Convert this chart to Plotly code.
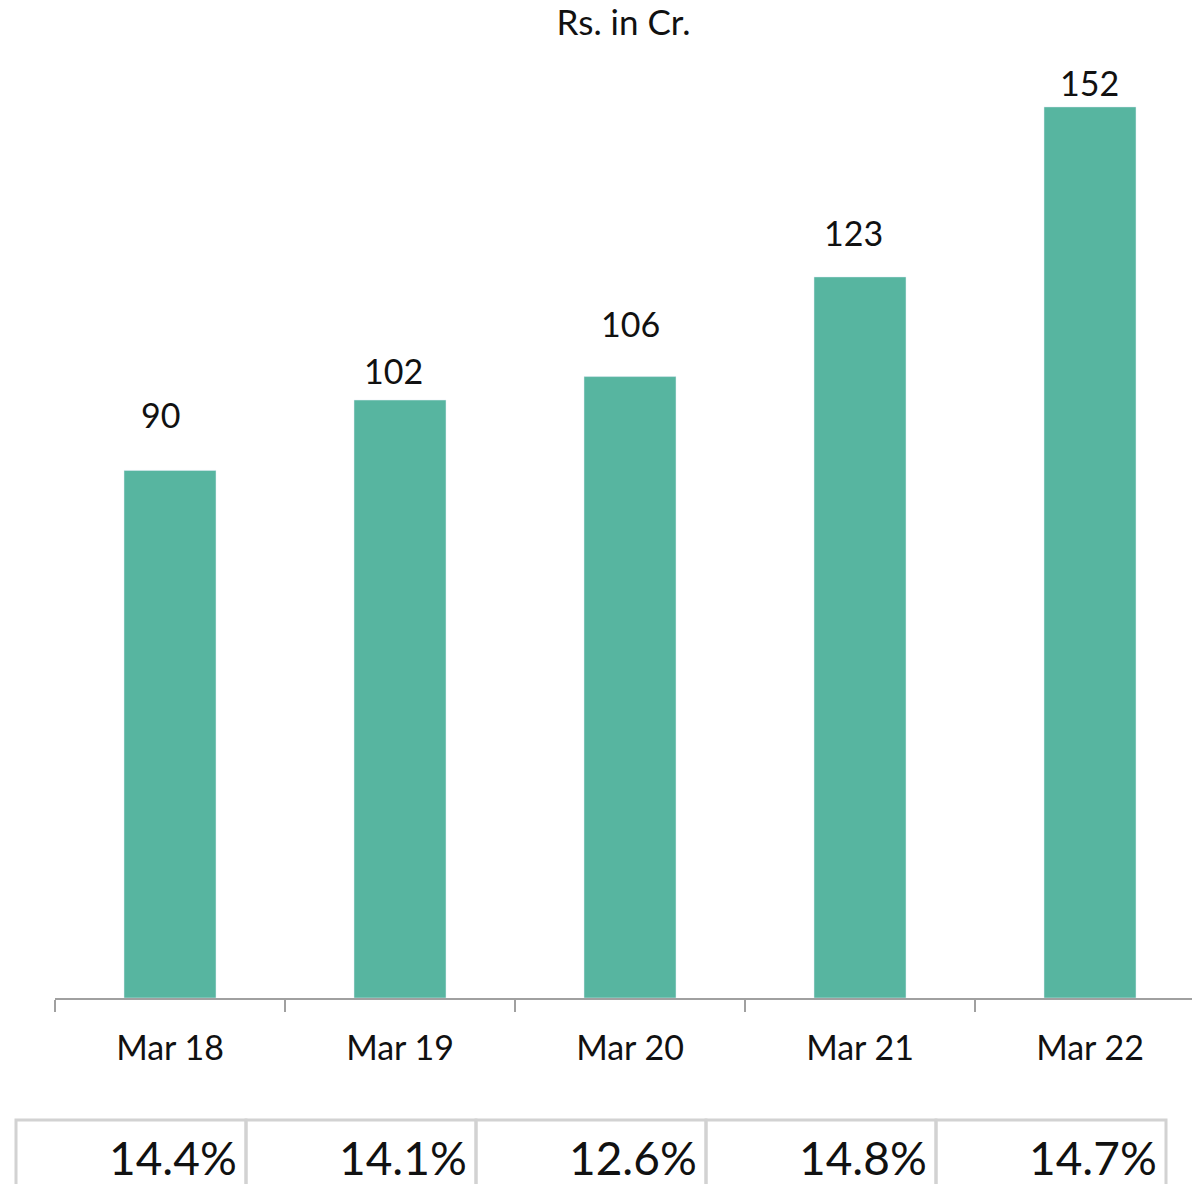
import plotly.graph_objects as go

categories = ["Mar 18", "Mar 19", "Mar 20", "Mar 21", "Mar 22"]
values = [90, 102, 106, 123, 152]
margins_pct = ["14.4%", "14.1%", "12.6%", "14.8%", "14.7%"]

# label placement tweaks (pixels) to mimic the reference
label_yshift = [56, 30, 53, 44, 24]
label_xshift = [-10, -7, 0, -7, -1]

FONT = "Lato"
BAR_COLOR = "#57B5A0"
BORDER = "#D2D2D2"
TXT = "#111111"

W, H = 1192, 1184
L, T = 55, 60              # plot area left/top
PLOT_BOT = 998             # plot area bottom
PH = PLOT_BOT - T
XR = [-0.5, 4.5 - 13 / 230]

def py(px):
    return (PLOT_BOT - px) / PH

def px_cat(xcat):
    return (xcat - XR[0]) / (XR[1] - XR[0])

fig = go.Figure()
fig.add_trace(go.Bar(
    x=categories, y=values, marker_color=BAR_COLOR, width=0.4,
    hoverinfo="skip", showlegend=False,
))

annotations = []
for i, (c, v) in enumerate(zip(categories, values)):
    annotations.append(dict(
        x=c, y=v, xref="x", yref="y", text=str(v), showarrow=False,
        yanchor="middle", xanchor="center", yshift=label_yshift[i], xshift=label_xshift[i],
        font=dict(family=FONT, size=34, color=TXT),
    ))

shapes = []
box_left_off, box_right_off = -0.5 - 39 / 230, 0.5 - 39 / 230
for i, p in enumerate(margins_pct):
    shapes.append(dict(
        type="rect", xref="paper", yref="paper",
        x0=px_cat(i + box_left_off), x1=px_cat(i + box_right_off),
        y0=py(1120), y1=py(1240),
        line=dict(color=BORDER, width=3), fillcolor="rgba(0,0,0,0)",
    ))
    annotations.append(dict(
        x=i + box_right_off - 7 / 230, y=py(1157), xref="x", yref="paper",
        text=p, showarrow=False, xanchor="right", yanchor="middle",
        font=dict(family=FONT, size=46, color=TXT),
    ))

fig.update_layout(
    width=W, height=H,
    margin=dict(l=L, r=0, t=T, b=H - PLOT_BOT),
    paper_bgcolor="white", plot_bgcolor="white",
    title=dict(text="Rs. in Cr.", x=0.5, xref="paper", xanchor="center",
               y=1 - 23 / H, yref="container", yanchor="middle",
               font=dict(family=FONT, size=35, color=TXT)),
    xaxis=dict(
        type="category", range=XR,
        showline=True, linecolor="#A0A0A0", linewidth=1.5,
        ticks="outside", tickson="boundaries", ticklen=12, tickcolor="#A0A0A0", tickwidth=1.5,
        tickfont=dict(family=FONT, size=34, color=TXT),
        ticklabelstandoff=20,
        showgrid=False, zeroline=False,
    ),
    yaxis=dict(range=[0, 160], visible=False, showgrid=False, zeroline=False),
    annotations=annotations,
    shapes=shapes,
)

fig.write_html(
    "out.html",
    config={"displayModeBar": False, "staticPlot": True},
    post_script="document.body.style.margin='0';document.body.style.overflow='hidden';",
)
